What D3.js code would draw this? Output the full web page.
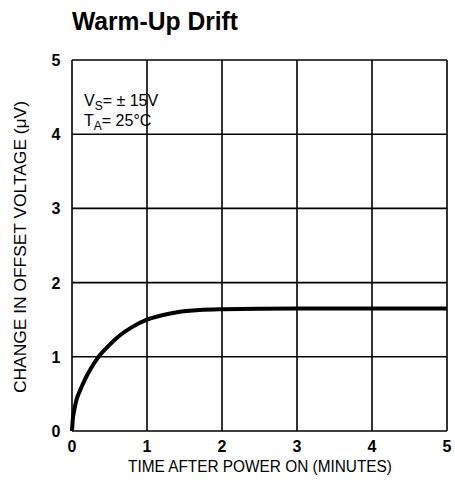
<!DOCTYPE html>
<html lang="en">
<head>
<meta charset="utf-8">
<script src="https://d3js.org/d3.v7.min.js"></script>
<style>
  body { margin: 0; background: #fff; }
  text { font-family: "Liberation Sans Narrow", "Liberation Sans", sans-serif; fill: #000; }
  .grid line { stroke: #000; stroke-width: 1.6px; }
</style>
</head>
<body>
<svg width="455" height="486"></svg>
<script>
// values
var timeMin = [0, 0.01, 0.03, 0.06, 0.1, 0.17, 0.25, 0.37, 0.5, 0.64, 0.8, 1.0, 1.2, 1.4, 1.7, 2, 3, 4, 5];
var driftUV = [0, 0.15, 0.28, 0.42, 0.53, 0.69, 0.84, 1.02, 1.16, 1.29, 1.4, 1.5, 1.56, 1.6, 1.63, 1.64, 1.65, 1.65, 1.65];
var xTicks = [0, 1, 2, 3, 4, 5];
var yTicks = [0, 1, 2, 3, 4, 5];

var svg = d3.select("svg");
var pLeft = 72, pRight = 447, pTop = 60, pBottom = 431;

var x = d3.scaleLinear().domain([0, 5]).range([pLeft, pRight]);
var y = d3.scaleLinear().domain([0, 5]).range([pBottom, pTop]);

// title
svg.append("text")
    .attr("x", 72).attr("y", 30)
    .attr("textLength", 166).attr("lengthAdjust", "spacingAndGlyphs")
    .style("font-size", "25px").style("font-weight", "bold")
    .text("Warm-Up Drift");

// grid
var grid = svg.append("g").attr("class", "grid");
grid.selectAll(".vx").data(xTicks).enter().append("line")
    .attr("x1", d => x(d)).attr("x2", d => x(d))
    .attr("y1", pTop).attr("y2", pBottom);
grid.selectAll(".hy").data(yTicks).enter().append("line")
    .attr("x1", pLeft).attr("x2", pRight)
    .attr("y1", d => y(d)).attr("y2", d => y(d));

// tick labels
svg.append("g").selectAll("text").data(xTicks).enter().append("text")
    .attr("x", d => x(d)).attr("y", pBottom + 21)
    .attr("text-anchor", "middle")
    .style("font-size", "16px").style("font-weight", "bold")
    .text(d => d);
svg.append("g").selectAll("text").data(yTicks).enter().append("text")
    .attr("x", 56).attr("y", d => y(d) + 6)
    .attr("text-anchor", "middle")
    .style("font-size", "16px").style("font-weight", "bold")
    .text(d => d);

// axis titles
svg.append("text")
    .attr("x", 260).attr("y", 472)
    .attr("text-anchor", "middle")
    .attr("textLength", 264).attr("lengthAdjust", "spacingAndGlyphs")
    .style("font-size", "16px")
    .text("TIME AFTER POWER ON (MINUTES)");
svg.append("text")
    .attr("transform", "translate(26,247) rotate(-90)")
    .attr("text-anchor", "middle")
    .attr("textLength", 292).attr("lengthAdjust", "spacingAndGlyphs")
    .style("font-size", "16px")
    .text("CHANGE IN OFFSET VOLTAGE (\u03BCV)");

// conditions
var note = svg.append("g").style("font-size", "16px");
var t1 = note.append("text").attr("x", 84).attr("y", 106);
t1.append("tspan").text("V");
t1.append("tspan").attr("dy", 4).style("font-size", "12px").text("S");
t1.append("tspan").attr("dy", -4).text("= \u00B1 15V");
var t2 = note.append("text").attr("x", 84).attr("y", 126);
t2.append("tspan").text("T");
t2.append("tspan").attr("dy", 4).style("font-size", "12px").text("A");
t2.append("tspan").attr("dy", -4).text("= 25\u00B0C");

// curve
var line = d3.line()
    .x((d, i) => x(timeMin[i]))
    .y(d => y(d))
    .curve(d3.curveMonotoneX);
svg.append("path")
    .datum(driftUV)
    .attr("d", line)
    .attr("fill", "none")
    .attr("stroke", "#000")
    .attr("stroke-width", 4);
</script>
</body>
</html>
